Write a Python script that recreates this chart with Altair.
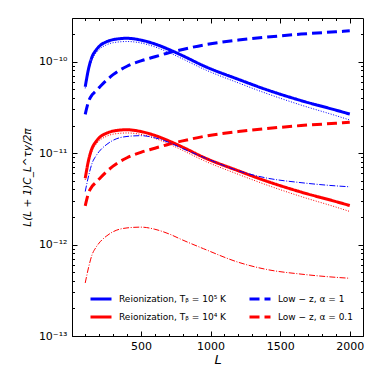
import altair as alt
import pandas as pd

# Multipole values
L = [100, 125, 150, 175, 200, 250, 300, 400, 500, 600, 700, 800, 950, 1200, 1400, 1650, 1900, 2000]

# Thick lines (in legend)
reion_1e5 = [5.3e-11, 8.5e-11, 1.14e-10, 1.32e-10, 1.47e-10, 1.64e-10, 1.74e-10, 1.80e-10, 1.72e-10,
             1.56e-10, 1.36e-10, 1.16e-10, 9.0e-11, 6.4e-11, 4.95e-11, 3.75e-11, 2.95e-11, 2.67e-11]
reion_1e4 = [5.3e-12, 8.5e-12, 1.14e-11, 1.32e-11, 1.47e-11, 1.64e-11, 1.74e-11, 1.80e-11, 1.72e-11,
             1.56e-11, 1.36e-11, 1.16e-11, 9.0e-12, 6.4e-12, 4.95e-12, 3.75e-12, 2.95e-12, 2.67e-12]
lowz_a1 = [2.65e-11, 3.7e-11, 4.35e-11, 4.75e-11, 5.2e-11, 6.2e-11, 7.2e-11, 8.9e-11, 1.02e-10,
           1.13e-10, 1.25e-10, 1.36e-10, 1.52e-10, 1.72e-10, 1.85e-10, 2.0e-10, 2.12e-10, 2.17e-10]
lowz_a01 = [2.65e-12, 3.7e-12, 4.35e-12, 4.75e-12, 5.2e-12, 6.2e-12, 7.2e-12, 8.9e-12, 1.02e-11,
            1.13e-11, 1.25e-11, 1.36e-11, 1.52e-11, 1.72e-11, 1.85e-11, 2.0e-11, 2.12e-11, 2.17e-11]

# Thin lines (not in legend)
dotted_blue = [5.1e-11, 8.0e-11, 1.06e-10, 1.23e-10, 1.36e-10, 1.52e-10, 1.61e-10, 1.66e-10, 1.60e-10,
               1.45e-10, 1.26e-10, 1.07e-10, 8.3e-11, 5.85e-11, 4.5e-11, 3.35e-11, 2.57e-11, 2.3e-11]
dotted_red = [5.1e-12, 8.0e-12, 1.06e-11, 1.23e-11, 1.36e-11, 1.52e-11, 1.61e-11, 1.66e-11, 1.60e-11,
              1.45e-11, 1.26e-11, 1.07e-11, 8.3e-12, 5.85e-12, 4.5e-12, 3.35e-12, 2.57e-12, 2.3e-12]
dashdot_blue = [3.8e-12, 5.7e-12, 7.8e-12, 9.2e-12, 1.04e-11, 1.23e-11, 1.38e-11, 1.52e-11, 1.55e-11,
                1.47e-11, 1.31e-11, 1.12e-11, 9.0e-12, 6.4e-12, 5.35e-12, 4.75e-12, 4.38e-12, 4.28e-12]
dashdot_red = [3.8e-13, 5.7e-13, 7.8e-13, 9.2e-13, 1.04e-12, 1.23e-12, 1.38e-12, 1.52e-12, 1.55e-12,
               1.47e-12, 1.31e-12, 1.12e-12, 9.0e-13, 6.4e-13, 5.35e-13, 4.75e-13, 4.38e-13, 4.28e-13]

# legend order (column-major: first column = reionization entries)
labels = ["Reionization, Tᵦ = 10⁵ K", "Reionization, Tᵦ = 10⁴ K",
          "Low − z, α = 1", "Low − z, α = 0.1"]
thick_series = [reion_1e5, reion_1e4, lowz_a1, lowz_a01]
thin_names = ["dotted_blue", "dotted_red", "dashdot_blue", "dashdot_red"]
thin_series = [dotted_blue, dotted_red, dashdot_blue, dashdot_red]

x_major = [500, 1000, 1500, 2000]
x_minor = [v for v in range(100, 2001, 100) if v % 500 != 0]
y_major = [1e-13, 1e-12, 1e-11, 1e-10]
y_minor = [m * 10.0 ** e for e in (-13, -12, -11) for m in range(2, 10)] + [2e-10]

BLUE, RED = "#0000ff", "#ff0000"

rows = []
for name, vals in zip(labels, thick_series):
    for l, v in zip(L, vals):
        rows.append({"series": name, "L": l, "value": v})
df_thick = pd.DataFrame(rows)

rows = []
for name, vals in zip(thin_names, thin_series):
    for l, v in zip(L, vals):
        rows.append({"series": name, "L": l, "value": v})
df_thin = pd.DataFrame(rows)

W, H = 291, 318
xs = alt.Scale(type="linear", domain=[5, 2095], nice=False, zero=False)
ys = alt.Scale(type="log", domain=[1e-13, 3e-10], nice=False)

ylab = ("datum.value < 5e-13 ? '10⁻¹³' : datum.value < 5e-12 ? '10⁻¹²' : "
        "datum.value < 5e-11 ? '10⁻¹¹' : '10⁻¹⁰'")

leg = alt.Legend(title=None, orient="none", legendX=17, legendY=269, columns=2,
                 symbolType="stroke", symbolSize=441, symbolStrokeWidth=3,
                 labelFontSize=9, labelFont="DejaVu Sans", labelColor="black",
                 rowPadding=-8, columnPadding=17, labelOffset=6, padding=0)

thick = alt.Chart(df_thick).mark_line(strokeWidth=3, interpolate="monotone").encode(
    x=alt.X("L:Q", scale=xs, axis=alt.Axis(
        title="L", titleFontStyle="italic", titleFontWeight="normal", titleFontSize=13,
        titleFont="DejaVu Sans", titlePadding=2, values=x_major, format="d",
        ticks=False, labelPadding=4, labelFontSize=11, labelFont="DejaVu Sans",
        labelColor="black", domainColor="black", grid=False)),
    y=alt.Y("value:Q", scale=ys, axis=alt.Axis(
        title="L(L + 1)C_L^τy/2π", titleFontStyle="italic", titleFontWeight="normal",
        titleFontSize=10.5, titleFont="DejaVu Sans", titlePadding=6, values=y_major,
        labelExpr=ylab, ticks=False, labelPadding=5, labelFontSize=11,
        labelFont="DejaVu Sans", labelColor="black", domainColor="black", grid=False)),
    color=alt.Color("series:N", scale=alt.Scale(domain=labels, range=[BLUE, RED, BLUE, RED]), legend=leg),
    strokeDash=alt.StrokeDash("series:N", scale=alt.Scale(
        domain=labels, range=[[1, 0], [1, 0], [10, 5], [10, 5]]), legend=leg),
)


def tick_axis(orient, values, size, offset):
    return alt.Axis(orient=orient, offset=offset, values=values, tickSize=size, labels=False,
                    domain=False, title=None, grid=False, tickColor="black", tickWidth=1)


thin = alt.Chart(df_thin).mark_line(strokeWidth=1, interpolate="monotone").encode(
    x=alt.X("L:Q", scale=xs, axis=tick_axis("top", x_major, 5, -H)),
    y=alt.Y("value:Q", scale=ys, axis=tick_axis("right", y_major, 5, -W)),
    color=alt.Color("series:N", scale=alt.Scale(domain=thin_names, range=[BLUE, RED, BLUE, RED]), legend=None),
    strokeDash=alt.StrokeDash("series:N", scale=alt.Scale(
        domain=thin_names, range=[[1, 1.6], [1, 1.6], [6, 1.6, 1, 1.6], [6, 1.6, 1, 1.6]]), legend=None),
)

base = alt.Chart(df_thin).mark_line(strokeOpacity=0)
ticks_c = base.encode(
    x=alt.X("L:Q", scale=xs, axis=tick_axis("top", x_minor, 2.5, -H)),
    y=alt.Y("value:Q", scale=ys, axis=tick_axis("right", y_minor, 2.5, -W)),
    detail="series:N")
ticks_d = base.encode(
    x=alt.X("L:Q", scale=xs, axis=tick_axis("bottom", x_major, 5, -H)),
    y=alt.Y("value:Q", scale=ys, axis=tick_axis("left", y_major, 5, -W)),
    detail="series:N")
ticks_e = base.encode(
    x=alt.X("L:Q", scale=xs, axis=tick_axis("bottom", x_minor, 2.5, -H)),
    y=alt.Y("value:Q", scale=ys, axis=tick_axis("left", y_minor, 2.5, -W)),
    detail="series:N")

chart = alt.layer(thick, thin, ticks_c, ticks_d, ticks_e).resolve_scale(
    color="independent", strokeDash="independent"
).resolve_axis(x="independent", y="independent").properties(
    width=W, height=H,
    autosize=alt.AutoSizeParams(type="none"),
    padding={"left": 64, "top": 10, "right": 10, "bottom": 40},
    background="white",
).configure_view(stroke="black", strokeWidth=1)

chart.save("out.html", embed_options={"renderer": "svg", "actions": False})
